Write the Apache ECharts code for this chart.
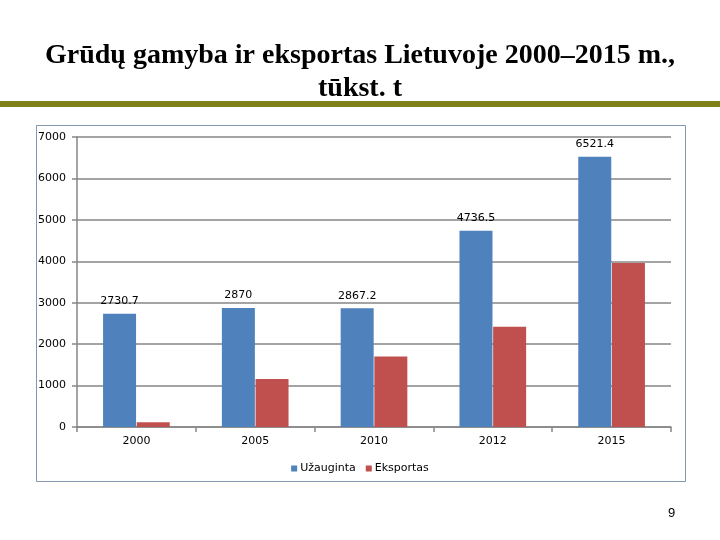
<!DOCTYPE html>
<html><head><meta charset="utf-8">
<script src="https://cdn.jsdelivr.net/npm/echarts@6/dist/echarts.min.js"></script>
<style>html,body{margin:0;padding:0;background:#fff}#c{width:720px;height:540px}</style>
</head><body><div id="c"></div>
<script>
const categories = ['2000', '2005', '2010', '2012', '2015'];
const grown = [2730.7, 2870, 2867.2, 4736.5, 6521.4];
const exported = [115, 1160, 1700, 2420, 3960];
const yTicks = [0, 1000, 2000, 3000, 4000, 5000, 6000, 7000];

const chart = echarts.init(document.getElementById('c'), null, {renderer: 'canvas'});
chart.setOption({
  animation: false,
  backgroundColor: '#fff',
  title: {
    text: 'Grūdų gamyba ir eksportas Lietuvoje 2000–2015 m.,\ntūkst. t',
    left: 'center', top: 34,
    textStyle: {fontFamily: 'Liberation Serif', fontWeight: 'bold', fontSize: 28, lineHeight: 33, color: '#000'}
  },
  graphic: [
    {type: 'rect', shape: {x: 0, y: 101, width: 720, height: 6}, style: {fill: '#808018'}, silent: true},
    {type: 'rect', shape: {x: 36.5, y: 125.5, width: 649, height: 356}, style: {fill: 'none', stroke: '#8497b0', lineWidth: 1}, silent: true, z: -1},
    {type: 'text', left: 668, top: 507, style: {text: '9', fontFamily: 'Liberation Sans', fontSize: 13, fill: '#000'}}
  ],
  legend: {
    data: ['Užauginta', 'Eksportas'],
    top: 458, left: 'center',
    itemWidth: 6, itemHeight: 6, itemGap: 10,
    icon: 'rect',
    textStyle: {fontFamily: 'DejaVu Sans', fontSize: 11, color: '#000', padding: [0, 0, 0, -2]}
  },
  grid: {left: 77, right: 49, top: 137, bottom: 113, containLabel: false},
  xAxis: {
    type: 'category', data: categories,
    axisLine: {lineStyle: {color: '#868686', width: 1.5}},
    axisTick: {show: true, length: 5, lineStyle: {color: '#868686', width: 1.5}},
    axisLabel: {fontFamily: 'DejaVu Sans', fontSize: 11, color: '#000', margin: 9}
  },
  yAxis: {
    type: 'value', min: 0, max: 7000, interval: 1000,
    axisLine: {show: true, lineStyle: {color: '#868686', width: 1.5}},
    axisTick: {show: true, length: 5, lineStyle: {color: '#868686', width: 1.5}},
    splitLine: {lineStyle: {color: '#868686', width: 1.5}},
    axisLabel: {fontFamily: 'DejaVu Sans', fontSize: 11, color: '#000', margin: 11,
      formatter: v => yTicks.includes(v) ? String(v) : ''}
  },
  series: [
    {name: 'Užauginta', type: 'bar', data: grown, barWidth: 33, barGap: '2%', barCategoryGap: '44%',
      itemStyle: {color: '#4f81bd'},
      label: {show: true, position: 'top', distance: 7, fontFamily: 'DejaVu Sans', fontSize: 11, color: '#000'}},
    {name: 'Eksportas', type: 'bar', data: exported, barWidth: 33, barGap: '2%',
      itemStyle: {color: '#c0504d'}}
  ]
});
</script></body></html>
